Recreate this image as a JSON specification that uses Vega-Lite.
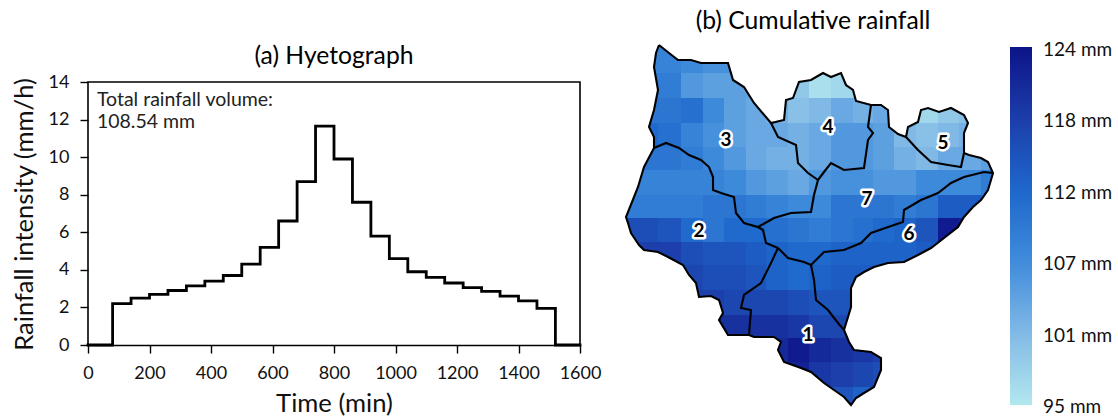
{"$schema":"https://vega.github.io/schema/vega-lite/v6.json","background":"white","padding":{"left":12,"top":9,"right":0,"bottom":0},"bounds":"flush","spacing":41,"config":{"font":"Lato","view":{"stroke":null},"axis":{"labelFont":"Lato","titleFont":"Lato"}},
"datasets":{
"hyeto":[{"time":0,"rain":0},{"time":80,"rain":2.2},{"time":140,"rain":2.5},{"time":200,"rain":2.7},{"time":260,"rain":2.9},{"time":320,"rain":3.15},{"time":380,"rain":3.4},{"time":440,"rain":3.7},{"time":500,"rain":4.3},{"time":560,"rain":5.2},{"time":620,"rain":6.6},{"time":680,"rain":8.7},{"time":740,"rain":11.65},{"time":800,"rain":9.9},{"time":860,"rain":7.6},{"time":920,"rain":5.8},{"time":980,"rain":4.6},{"time":1040,"rain":3.9},{"time":1100,"rain":3.6},{"time":1160,"rain":3.3},{"time":1220,"rain":3.05},{"time":1280,"rain":2.85},{"time":1340,"rain":2.6},{"time":1400,"rain":2.35},{"time":1460,"rain":1.95},{"time":1520,"rain":0},{"time":1600,"rain":0}],
"maskrows":[{"e":620,"n":40},{"e":620,"n":412},{"e":1004,"n":412},{"e":1004,"n":40},{"e":620,"n":40},{"e":658,"n":45},{"e":668,"n":53},{"e":677,"n":60},{"e":690,"n":60},{"e":700,"n":63},{"e":710,"n":63},{"e":727,"n":63},{"e":732,"n":80},{"e":743,"n":87},{"e":753,"n":103},{"e":770,"n":123},{"e":783,"n":120},{"e":785,"n":100},{"e":792,"n":98},{"e":798,"n":82},{"e":810,"n":80},{"e":822,"n":73},{"e":830,"n":77},{"e":840,"n":73},{"e":845,"n":85},{"e":852,"n":90},{"e":855,"n":101},{"e":870,"n":105},{"e":880,"n":105},{"e":887,"n":110},{"e":888,"n":127},{"e":897,"n":134},{"e":905,"n":137},{"e":907,"n":127},{"e":917,"n":122},{"e":920,"n":110},{"e":927,"n":108},{"e":938,"n":112},{"e":950,"n":108},{"e":963,"n":115},{"e":967,"n":123},{"e":963,"n":133},{"e":963,"n":153},{"e":968,"n":155},{"e":980,"n":158},{"e":987,"n":162},{"e":992,"n":173},{"e":987,"n":190},{"e":980,"n":200},{"e":972,"n":207},{"e":963,"n":217},{"e":957,"n":227},{"e":943,"n":238},{"e":930,"n":248},{"e":917,"n":255},{"e":903,"n":262},{"e":887,"n":263},{"e":873,"n":267},{"e":863,"n":272},{"e":855,"n":277},{"e":850,"n":288},{"e":850,"n":307},{"e":847,"n":317},{"e":843,"n":330},{"e":848,"n":342},{"e":853,"n":350},{"e":870,"n":352},{"e":880,"n":358},{"e":880,"n":370},{"e":873,"n":387},{"e":863,"n":393},{"e":855,"n":398},{"e":850,"n":405},{"e":843,"n":397},{"e":833,"n":390},{"e":823,"n":383},{"e":810,"n":372},{"e":800,"n":368},{"e":783,"n":362},{"e":777,"n":350},{"e":780,"n":342},{"e":773,"n":337},{"e":753,"n":337},{"e":748,"n":335},{"e":727,"n":335},{"e":718,"n":320},{"e":722,"n":313},{"e":718,"n":300},{"e":710,"n":296},{"e":698,"n":297},{"e":695,"n":283},{"e":688,"n":275},{"e":682,"n":265},{"e":667,"n":257},{"e":657,"n":252},{"e":643,"n":250},{"e":638,"n":245},{"e":630,"n":233},{"e":627,"n":223},{"e":625,"n":217},{"e":633,"n":197},{"e":637,"n":187},{"e":643,"n":167},{"e":653,"n":148},{"e":653,"n":137},{"e":648,"n":127},{"e":653,"n":110},{"e":657,"n":90},{"e":653,"n":67},{"e":655,"n":53},{"e":658,"n":45},{"e":620,"n":40}],
"borders":[{"b":"outer","e":658,"n":45},{"b":"outer","e":668,"n":53},{"b":"outer","e":677,"n":60},{"b":"outer","e":690,"n":60},{"b":"outer","e":700,"n":63},{"b":"outer","e":710,"n":63},{"b":"outer","e":727,"n":63},{"b":"outer","e":732,"n":80},{"b":"outer","e":743,"n":87},{"b":"outer","e":753,"n":103},{"b":"outer","e":770,"n":123},{"b":"outer","e":783,"n":120},{"b":"outer","e":785,"n":100},{"b":"outer","e":792,"n":98},{"b":"outer","e":798,"n":82},{"b":"outer","e":810,"n":80},{"b":"outer","e":822,"n":73},{"b":"outer","e":830,"n":77},{"b":"outer","e":840,"n":73},{"b":"outer","e":845,"n":85},{"b":"outer","e":852,"n":90},{"b":"outer","e":855,"n":101},{"b":"outer","e":870,"n":105},{"b":"outer","e":880,"n":105},{"b":"outer","e":887,"n":110},{"b":"outer","e":888,"n":127},{"b":"outer","e":897,"n":134},{"b":"outer","e":905,"n":137},{"b":"outer","e":907,"n":127},{"b":"outer","e":917,"n":122},{"b":"outer","e":920,"n":110},{"b":"outer","e":927,"n":108},{"b":"outer","e":938,"n":112},{"b":"outer","e":950,"n":108},{"b":"outer","e":963,"n":115},{"b":"outer","e":967,"n":123},{"b":"outer","e":963,"n":133},{"b":"outer","e":963,"n":153},{"b":"outer","e":968,"n":155},{"b":"outer","e":980,"n":158},{"b":"outer","e":987,"n":162},{"b":"outer","e":992,"n":173},{"b":"outer","e":987,"n":190},{"b":"outer","e":980,"n":200},{"b":"outer","e":972,"n":207},{"b":"outer","e":963,"n":217},{"b":"outer","e":957,"n":227},{"b":"outer","e":943,"n":238},{"b":"outer","e":930,"n":248},{"b":"outer","e":917,"n":255},{"b":"outer","e":903,"n":262},{"b":"outer","e":887,"n":263},{"b":"outer","e":873,"n":267},{"b":"outer","e":863,"n":272},{"b":"outer","e":855,"n":277},{"b":"outer","e":850,"n":288},{"b":"outer","e":850,"n":307},{"b":"outer","e":847,"n":317},{"b":"outer","e":843,"n":330},{"b":"outer","e":848,"n":342},{"b":"outer","e":853,"n":350},{"b":"outer","e":870,"n":352},{"b":"outer","e":880,"n":358},{"b":"outer","e":880,"n":370},{"b":"outer","e":873,"n":387},{"b":"outer","e":863,"n":393},{"b":"outer","e":855,"n":398},{"b":"outer","e":850,"n":405},{"b":"outer","e":843,"n":397},{"b":"outer","e":833,"n":390},{"b":"outer","e":823,"n":383},{"b":"outer","e":810,"n":372},{"b":"outer","e":800,"n":368},{"b":"outer","e":783,"n":362},{"b":"outer","e":777,"n":350},{"b":"outer","e":780,"n":342},{"b":"outer","e":773,"n":337},{"b":"outer","e":753,"n":337},{"b":"outer","e":748,"n":335},{"b":"outer","e":727,"n":335},{"b":"outer","e":718,"n":320},{"b":"outer","e":722,"n":313},{"b":"outer","e":718,"n":300},{"b":"outer","e":710,"n":296},{"b":"outer","e":698,"n":297},{"b":"outer","e":695,"n":283},{"b":"outer","e":688,"n":275},{"b":"outer","e":682,"n":265},{"b":"outer","e":667,"n":257},{"b":"outer","e":657,"n":252},{"b":"outer","e":643,"n":250},{"b":"outer","e":638,"n":245},{"b":"outer","e":630,"n":233},{"b":"outer","e":627,"n":223},{"b":"outer","e":625,"n":217},{"b":"outer","e":633,"n":197},{"b":"outer","e":637,"n":187},{"b":"outer","e":643,"n":167},{"b":"outer","e":653,"n":148},{"b":"outer","e":653,"n":137},{"b":"outer","e":648,"n":127},{"b":"outer","e":653,"n":110},{"b":"outer","e":657,"n":90},{"b":"outer","e":653,"n":67},{"b":"outer","e":655,"n":53},{"b":"outer","e":658,"n":45},
{"b":"a","e":653,"n":148},{"b":"a","e":665,"n":143},{"b":"a","e":678,"n":148},{"b":"a","e":688,"n":155},{"b":"a","e":700,"n":160},{"b":"a","e":708,"n":167},{"b":"a","e":712,"n":177},{"b":"a","e":712,"n":190},{"b":"a","e":720,"n":193},{"b":"a","e":733,"n":197},{"b":"a","e":735,"n":213},{"b":"a","e":743,"n":223},{"b":"a","e":757,"n":227},{"b":"a","e":773,"n":218},{"b":"a","e":790,"n":213},{"b":"a","e":810,"n":212},{"b":"a","e":813,"n":195},{"b":"a","e":817,"n":180},
{"b":"c","e":770,"n":123},{"b":"c","e":777,"n":137},{"b":"c","e":795,"n":145},{"b":"c","e":797,"n":163},{"b":"c","e":807,"n":173},{"b":"c","e":817,"n":180},
{"b":"d","e":817,"n":180},{"b":"d","e":823,"n":172},{"b":"d","e":830,"n":163},{"b":"d","e":843,"n":170},{"b":"d","e":863,"n":168},{"b":"d","e":867,"n":140},{"b":"d","e":872,"n":133},{"b":"d","e":867,"n":127},{"b":"d","e":870,"n":105},
{"b":"e","e":757,"n":227},{"b":"e","e":762,"n":230},{"b":"e","e":765,"n":243},{"b":"e","e":777,"n":248},
{"b":"f","e":777,"n":248},{"b":"f","e":770,"n":263},{"b":"f","e":760,"n":283},{"b":"f","e":743,"n":295},{"b":"f","e":740,"n":308},{"b":"f","e":750,"n":310},{"b":"f","e":748,"n":335},
{"b":"g","e":777,"n":248},{"b":"g","e":787,"n":258},{"b":"g","e":803,"n":262},{"b":"g","e":810,"n":265},
{"b":"h","e":810,"n":265},{"b":"h","e":823,"n":252},{"b":"h","e":843,"n":250},{"b":"h","e":860,"n":243},{"b":"h","e":870,"n":233},{"b":"h","e":893,"n":225},{"b":"h","e":902,"n":222},{"b":"h","e":903,"n":210},{"b":"h","e":920,"n":200},{"b":"h","e":937,"n":193},{"b":"h","e":950,"n":183},{"b":"h","e":963,"n":177},{"b":"h","e":983,"n":172},{"b":"h","e":992,"n":173},
{"b":"i","e":810,"n":265},{"b":"i","e":813,"n":280},{"b":"i","e":815,"n":300},{"b":"i","e":827,"n":310},{"b":"i","e":837,"n":323},{"b":"i","e":843,"n":330},
{"b":"j","e":905,"n":137},{"b":"j","e":917,"n":150},{"b":"j","e":930,"n":162},{"b":"j","e":947,"n":165},{"b":"j","e":960,"n":167},{"b":"j","e":963,"n":153}],
"labels":[{"e":807,"n":335,"id":"1"},{"e":698,"n":231,"id":"2"},{"e":725,"n":140,"id":"3"},{"e":827,"n":127,"id":"4"},{"e":942,"n":143,"id":"5"},{"e":908,"n":234,"id":"6"},{"e":866,"n":199,"id":"7"}]
},
"hconcat":[
{"width":492,"height":305,
"title":{"text":"(a) Hyetograph","fontSize":24.7,"fontWeight":"normal","font":"Lato","anchor":"middle","offset":-29},
"layer":[
{"data":{"values":[{"time":0,"rain":0},{"time":0,"rain":14},{"time":1600,"rain":14},{"time":1600,"rain":0}]},"mark":{"type":"line","color":"black","strokeWidth":1.6},"encoding":{"x":{"field":"time","type":"quantitative"},"y":{"field":"rain","type":"quantitative"},"order":{"value":null}}},
{"data":{"name":"hyeto"},"mark":{"type":"line","color":"black","strokeWidth":2.8,"interpolate":"step-after","strokeCap":"square"},"encoding":{
"x":{"field":"time","type":"quantitative","scale":{"domain":[0,1600],"nice":false},"axis":{"values":[0,200,400,600,800,1000,1200,1400,1600],"format":"d","labelOverlap":false,"labelBound":false,"labelFlush":false,"title":"Time (min)","titleFontSize":25.6,"titleFontWeight":"normal","titleColor":"#111","labelFontSize":18,"labelColor":"#111","grid":false,"domainColor":"black","domainWidth":1.6,"tickColor":"black","tickWidth":1.4,"tickSize":8,"labelPadding":11,"titlePadding":9}},
"y":{"field":"rain","type":"quantitative","scale":{"domain":[0,16.236],"nice":false},"axis":{"values":[0,2,4,6,8,10,12,14],"labelOverlap":false,"labelFlush":false,"title":"Rainfall intensity (mm/h)","titleFontSize":25.6,"titleFontWeight":"normal","titleColor":"#111","titleY":174,"labelFontSize":18,"labelColor":"#111","grid":false,"domain":false,"tickColor":"black","tickWidth":1.4,"tickSize":8,"labelPadding":11,"titlePadding":11}},
"order":{"value":null}}},
{"data":{"values":[{"time":29,"rain":13.04,"note":"Total rainfall volume:"},{"time":29,"rain":11.87,"note":"108.54 mm"}]},"mark":{"type":"text","align":"left","baseline":"middle","fontSize":19.5,"color":"#222"},"encoding":{"x":{"field":"time","type":"quantitative"},"y":{"field":"rain","type":"quantitative"},"text":{"field":"note"}}}
]},
{"width":384,"height":372,
"title":{"text":"(b) Cumulative rainfall","fontSize":24.7,"fontWeight":"normal","font":"Lato","anchor":"middle","offset":6},
"layer":[
{"data":{"values":[
{"w":635,"e2":657,"n":44,"s":73,"mm":108},{"w":657,"e2":680,"n":44,"s":73,"mm":108},{"w":680,"e2":702,"n":44,"s":73,"mm":107},{"w":702,"e2":723,"n":44,"s":73,"mm":106},{"w":723,"e2":745,"n":44,"s":73,"mm":106},
{"w":635,"e2":657,"n":73,"s":98,"mm":109},{"w":657,"e2":680,"n":73,"s":98,"mm":109},{"w":680,"e2":702,"n":73,"s":98,"mm":105},{"w":702,"e2":723,"n":73,"s":98,"mm":104},{"w":723,"e2":745,"n":73,"s":98,"mm":104},{"w":745,"e2":765,"n":73,"s":98,"mm":104},{"w":787,"e2":808,"n":73,"s":98,"mm":99},{"w":808,"e2":830,"n":73,"s":98,"mm":96},{"w":830,"e2":852,"n":73,"s":98,"mm":97},{"w":852,"e2":872,"n":73,"s":98,"mm":99},
{"w":635,"e2":657,"n":98,"s":123,"mm":110},{"w":657,"e2":680,"n":98,"s":123,"mm":110},{"w":680,"e2":702,"n":98,"s":123,"mm":111},{"w":702,"e2":723,"n":98,"s":123,"mm":107},{"w":723,"e2":745,"n":98,"s":123,"mm":104},{"w":745,"e2":765,"n":98,"s":123,"mm":103},{"w":765,"e2":787,"n":98,"s":123,"mm":102},{"w":787,"e2":808,"n":98,"s":123,"mm":100},{"w":808,"e2":830,"n":98,"s":123,"mm":101},{"w":830,"e2":852,"n":98,"s":123,"mm":103},{"w":852,"e2":872,"n":98,"s":123,"mm":102},{"w":872,"e2":893,"n":98,"s":123,"mm":103},{"w":893,"e2":915,"n":98,"s":123,"mm":101},{"w":915,"e2":937,"n":98,"s":123,"mm":97},{"w":937,"e2":958,"n":98,"s":123,"mm":99},{"w":958,"e2":980,"n":98,"s":123,"mm":100},
{"w":635,"e2":657,"n":123,"s":147,"mm":112},{"w":657,"e2":680,"n":123,"s":147,"mm":111},{"w":680,"e2":702,"n":123,"s":147,"mm":108},{"w":702,"e2":723,"n":123,"s":147,"mm":106},{"w":723,"e2":745,"n":123,"s":147,"mm":104},{"w":745,"e2":765,"n":123,"s":147,"mm":103},{"w":765,"e2":787,"n":123,"s":147,"mm":103},{"w":787,"e2":808,"n":123,"s":147,"mm":102},{"w":808,"e2":830,"n":123,"s":147,"mm":103},{"w":830,"e2":852,"n":123,"s":147,"mm":105},{"w":852,"e2":872,"n":123,"s":147,"mm":105},{"w":872,"e2":893,"n":123,"s":147,"mm":104},{"w":893,"e2":915,"n":123,"s":147,"mm":101},{"w":915,"e2":937,"n":123,"s":147,"mm":100},{"w":937,"e2":958,"n":123,"s":147,"mm":101},{"w":958,"e2":980,"n":123,"s":147,"mm":102},
{"w":635,"e2":657,"n":147,"s":170,"mm":110},{"w":657,"e2":680,"n":147,"s":170,"mm":110},{"w":680,"e2":702,"n":147,"s":170,"mm":109},{"w":702,"e2":723,"n":147,"s":170,"mm":107},{"w":723,"e2":745,"n":147,"s":170,"mm":105},{"w":745,"e2":765,"n":147,"s":170,"mm":103},{"w":765,"e2":787,"n":147,"s":170,"mm":102},{"w":787,"e2":808,"n":147,"s":170,"mm":102},{"w":808,"e2":830,"n":147,"s":170,"mm":103},{"w":830,"e2":852,"n":147,"s":170,"mm":105},{"w":852,"e2":872,"n":147,"s":170,"mm":105},{"w":872,"e2":893,"n":147,"s":170,"mm":104},{"w":893,"e2":915,"n":147,"s":170,"mm":102},{"w":915,"e2":937,"n":147,"s":170,"mm":101},{"w":937,"e2":958,"n":147,"s":170,"mm":103},{"w":958,"e2":980,"n":147,"s":170,"mm":103},{"w":980,"e2":1002,"n":147,"s":170,"mm":104},
{"w":635,"e2":657,"n":170,"s":195,"mm":108},{"w":657,"e2":680,"n":170,"s":195,"mm":108},{"w":680,"e2":702,"n":170,"s":195,"mm":108},{"w":702,"e2":723,"n":170,"s":195,"mm":108},{"w":723,"e2":745,"n":170,"s":195,"mm":107},{"w":745,"e2":765,"n":170,"s":195,"mm":105},{"w":765,"e2":787,"n":170,"s":195,"mm":104},{"w":787,"e2":808,"n":170,"s":195,"mm":103},{"w":808,"e2":830,"n":170,"s":195,"mm":105},{"w":830,"e2":852,"n":170,"s":195,"mm":106},{"w":852,"e2":872,"n":170,"s":195,"mm":106},{"w":872,"e2":893,"n":170,"s":195,"mm":105},{"w":893,"e2":915,"n":170,"s":195,"mm":105},{"w":915,"e2":937,"n":170,"s":195,"mm":107},{"w":937,"e2":958,"n":170,"s":195,"mm":107},{"w":958,"e2":980,"n":170,"s":195,"mm":107},{"w":980,"e2":1002,"n":170,"s":195,"mm":109},
{"w":620,"e2":635,"n":195,"s":218,"mm":109},{"w":635,"e2":657,"n":195,"s":218,"mm":109},{"w":657,"e2":680,"n":195,"s":218,"mm":109},{"w":680,"e2":702,"n":195,"s":218,"mm":109},{"w":702,"e2":723,"n":195,"s":218,"mm":110},{"w":723,"e2":745,"n":195,"s":218,"mm":110},{"w":745,"e2":765,"n":195,"s":218,"mm":109},{"w":765,"e2":787,"n":195,"s":218,"mm":108},{"w":787,"e2":808,"n":195,"s":218,"mm":107},{"w":808,"e2":830,"n":195,"s":218,"mm":107},{"w":830,"e2":852,"n":195,"s":218,"mm":110},{"w":852,"e2":872,"n":195,"s":218,"mm":110},{"w":872,"e2":893,"n":195,"s":218,"mm":110},{"w":893,"e2":915,"n":195,"s":218,"mm":109},{"w":915,"e2":937,"n":195,"s":218,"mm":110},{"w":937,"e2":958,"n":195,"s":218,"mm":114},{"w":958,"e2":980,"n":195,"s":218,"mm":114},{"w":980,"e2":1002,"n":195,"s":218,"mm":112},
{"w":620,"e2":635,"n":218,"s":242,"mm":116},{"w":635,"e2":657,"n":218,"s":242,"mm":116},{"w":657,"e2":680,"n":218,"s":242,"mm":115},{"w":680,"e2":702,"n":218,"s":242,"mm":112},{"w":702,"e2":723,"n":218,"s":242,"mm":110},{"w":723,"e2":745,"n":218,"s":242,"mm":112},{"w":745,"e2":765,"n":218,"s":242,"mm":112},{"w":765,"e2":787,"n":218,"s":242,"mm":111},{"w":787,"e2":808,"n":218,"s":242,"mm":110},{"w":808,"e2":830,"n":218,"s":242,"mm":109},{"w":830,"e2":852,"n":218,"s":242,"mm":110},{"w":852,"e2":872,"n":218,"s":242,"mm":111},{"w":872,"e2":893,"n":218,"s":242,"mm":112},{"w":893,"e2":915,"n":218,"s":242,"mm":113},{"w":915,"e2":937,"n":218,"s":242,"mm":115},{"w":937,"e2":958,"n":218,"s":242,"mm":123},{"w":958,"e2":980,"n":218,"s":242,"mm":122},
{"w":635,"e2":657,"n":242,"s":265,"mm":118},{"w":657,"e2":680,"n":242,"s":265,"mm":118},{"w":680,"e2":702,"n":242,"s":265,"mm":116},{"w":702,"e2":723,"n":242,"s":265,"mm":115},{"w":723,"e2":745,"n":242,"s":265,"mm":115},{"w":745,"e2":765,"n":242,"s":265,"mm":114},{"w":765,"e2":787,"n":242,"s":265,"mm":113},{"w":787,"e2":808,"n":242,"s":265,"mm":112},{"w":808,"e2":830,"n":242,"s":265,"mm":112},{"w":830,"e2":852,"n":242,"s":265,"mm":113},{"w":852,"e2":872,"n":242,"s":265,"mm":113},{"w":872,"e2":893,"n":242,"s":265,"mm":113},{"w":893,"e2":915,"n":242,"s":265,"mm":113},{"w":915,"e2":937,"n":242,"s":265,"mm":114},
{"w":657,"e2":680,"n":265,"s":290,"mm":118},{"w":680,"e2":702,"n":265,"s":290,"mm":117},{"w":702,"e2":723,"n":265,"s":290,"mm":116},{"w":723,"e2":745,"n":265,"s":290,"mm":116},{"w":745,"e2":765,"n":265,"s":290,"mm":115},{"w":765,"e2":787,"n":265,"s":290,"mm":113},{"w":787,"e2":808,"n":265,"s":290,"mm":112},{"w":808,"e2":830,"n":265,"s":290,"mm":113},{"w":830,"e2":852,"n":265,"s":290,"mm":114},{"w":852,"e2":872,"n":265,"s":290,"mm":114},{"w":872,"e2":893,"n":265,"s":290,"mm":113},
{"w":680,"e2":702,"n":290,"s":315,"mm":118},{"w":702,"e2":723,"n":290,"s":315,"mm":118},{"w":723,"e2":745,"n":290,"s":315,"mm":117},{"w":745,"e2":765,"n":290,"s":315,"mm":117},{"w":765,"e2":787,"n":290,"s":315,"mm":117},{"w":787,"e2":808,"n":290,"s":315,"mm":116},{"w":808,"e2":830,"n":290,"s":315,"mm":115},{"w":830,"e2":852,"n":290,"s":315,"mm":115},{"w":852,"e2":872,"n":290,"s":315,"mm":115},
{"w":702,"e2":723,"n":315,"s":338,"mm":120},{"w":723,"e2":745,"n":315,"s":338,"mm":120},{"w":745,"e2":765,"n":315,"s":338,"mm":120},{"w":765,"e2":787,"n":315,"s":338,"mm":120},{"w":787,"e2":808,"n":315,"s":338,"mm":119},{"w":808,"e2":830,"n":315,"s":338,"mm":117},{"w":830,"e2":852,"n":315,"s":338,"mm":117},{"w":852,"e2":872,"n":315,"s":338,"mm":117},
{"w":745,"e2":765,"n":338,"s":362,"mm":121},{"w":765,"e2":787,"n":338,"s":362,"mm":121},{"w":787,"e2":808,"n":338,"s":362,"mm":123},{"w":808,"e2":830,"n":338,"s":362,"mm":121},{"w":830,"e2":852,"n":338,"s":362,"mm":120},{"w":852,"e2":872,"n":338,"s":362,"mm":119},{"w":872,"e2":893,"n":338,"s":362,"mm":118},
{"w":765,"e2":787,"n":362,"s":387,"mm":122},{"w":787,"e2":808,"n":362,"s":387,"mm":122},{"w":808,"e2":830,"n":362,"s":387,"mm":119},{"w":830,"e2":852,"n":362,"s":387,"mm":118},{"w":852,"e2":872,"n":362,"s":387,"mm":117},{"w":872,"e2":893,"n":362,"s":387,"mm":116},
{"w":808,"e2":830,"n":387,"s":411,"mm":115},{"w":830,"e2":852,"n":387,"s":411,"mm":115},{"w":852,"e2":872,"n":387,"s":411,"mm":113},{"w":872,"e2":893,"n":387,"s":411,"mm":113}
]},"mark":{"type":"rect"},"encoding":{
"x":{"field":"w","type":"quantitative","scale":{"domain":[620,1004],"nice":false,"zero":false},"axis":null},"x2":{"field":"e2"},
"y":{"field":"n","type":"quantitative","scale":{"domain":[412,40],"nice":false,"zero":false},"axis":null},"y2":{"field":"s"},
"color":{"field":"mm","type":"quantitative","scale":{"domain":[95,100.8,106.6,112.4,118.2,124],"range":["#b2e8ee","#82bae6","#3f8bdb","#1e68cc","#1c3eaa","#0c1488"],"interpolate":"rgb"},
"legend":{"title":null,"orient":"none","legendX":922,"legendY":7,"direction":"vertical","gradientLength":358,"gradientThickness":22,"gradientStrokeWidth":0,"values":[95.001,100.8,106.6,112.4,118.2,123.999],"labelExpr":"format(datum.value,'.0f')+' mm'","labelFontSize":19,"labelFont":"Lato","labelColor":"#111","labelOffset":11,"labelOverlap":false,"encode":{"labels":{"update":{"dy":{"value":2.5}}}}}}}},
{"data":{"name":"maskrows"},"mark":{"type":"line","fill":"white","stroke":null},"encoding":{"x":{"field":"e","type":"quantitative"},"y":{"field":"n","type":"quantitative"},"order":{"value":null}}},
{"data":{"name":"borders"},"mark":{"type":"line","color":"black","strokeWidth":2.1},"encoding":{"x":{"field":"e","type":"quantitative"},"y":{"field":"n","type":"quantitative"},"detail":{"field":"b"},"order":{"value":null}}},
{"data":{"name":"labels"},"mark":{"type":"text","fontSize":19,"fontWeight":"bold","stroke":"white","strokeWidth":5,"strokeJoin":"round","fill":"white"},"encoding":{"x":{"field":"e","type":"quantitative"},"y":{"field":"n","type":"quantitative"},"text":{"field":"id"}}},
{"data":{"name":"labels"},"mark":{"type":"text","fontSize":19,"fontWeight":"bold","color":"black"},"encoding":{"x":{"field":"e","type":"quantitative"},"y":{"field":"n","type":"quantitative"},"text":{"field":"id"}}}
]}
]}
